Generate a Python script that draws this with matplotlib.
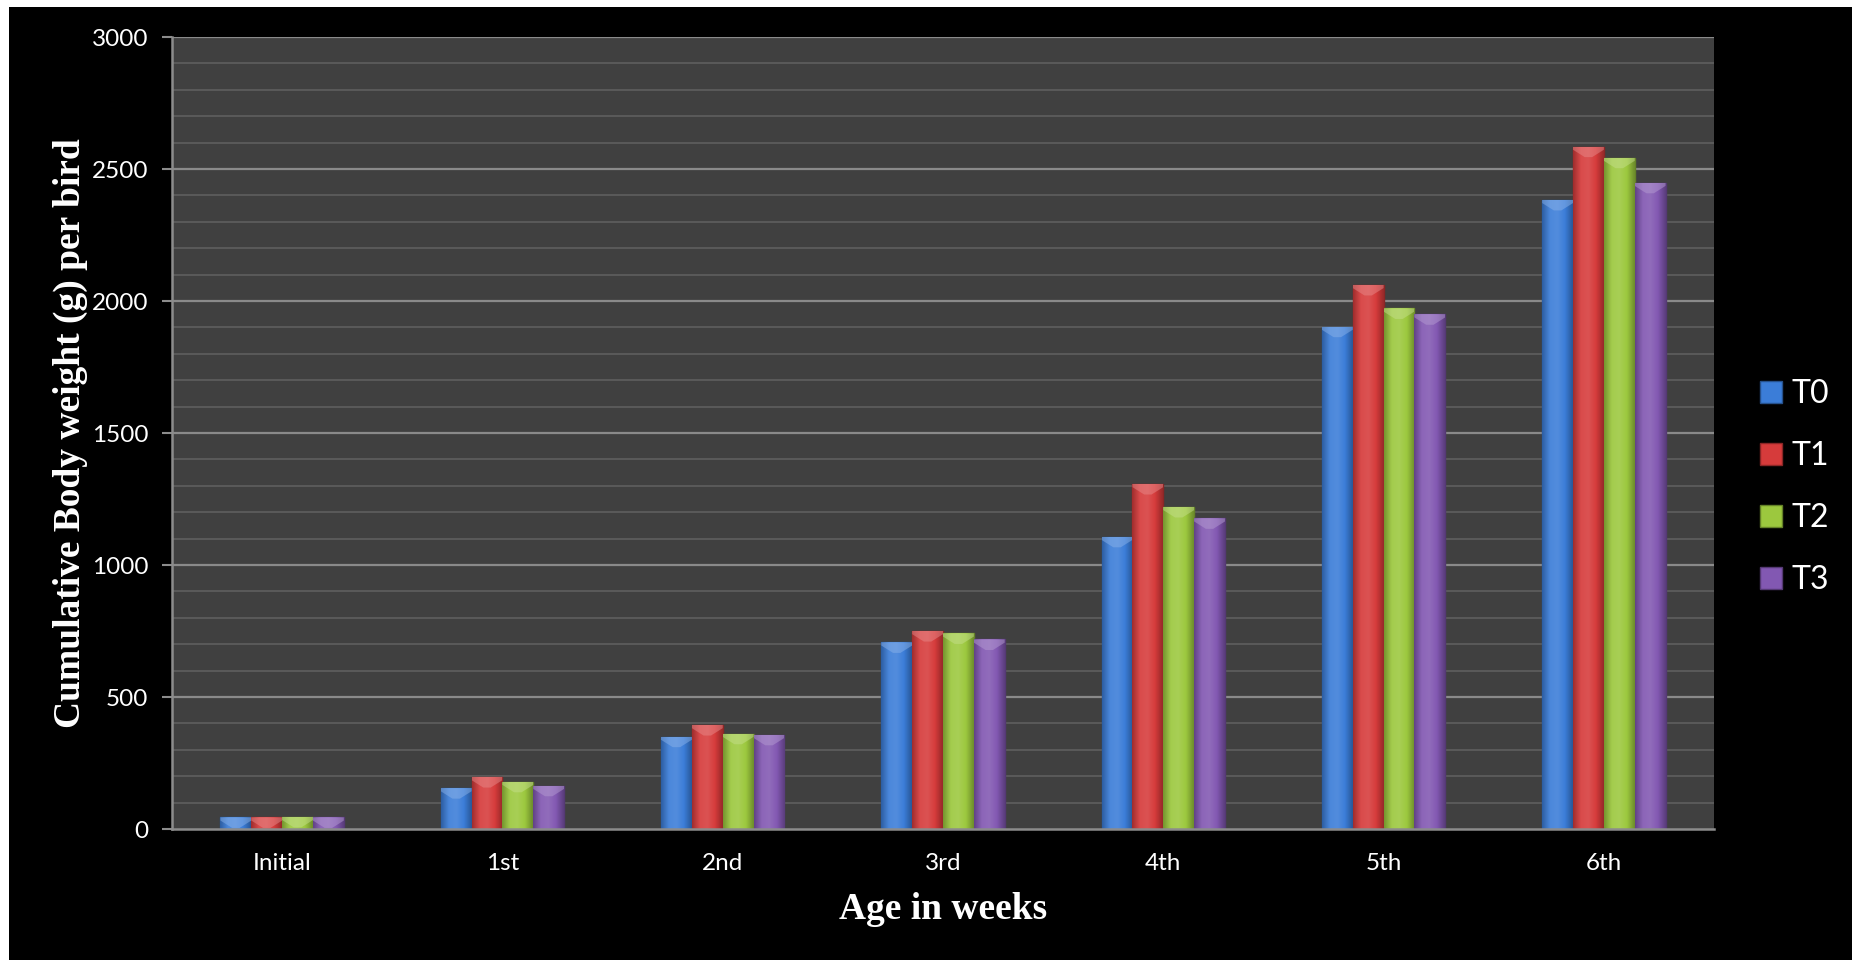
import numpy as np
import matplotlib
matplotlib.use("Agg")
import matplotlib.pyplot as plt
from matplotlib.patches import Rectangle, Polygon
from matplotlib.colors import LinearSegmentedColormap, to_rgb
from matplotlib.font_manager import FontProperties

# Cumulative body weight (g) per bird by week of age
weeks = ["Initial", "1st", "2nd", "3rd", "4th", "5th", "6th"]
t0 = [44, 155, 350, 707, 1107, 1903, 2383]
t1 = [44, 197, 394, 750, 1307, 2061, 2585]
t2 = [46, 179, 361, 741, 1220, 1972, 2543]
t3 = [44, 164, 357, 718, 1177, 1950, 2448]
series_names = ["T0", "T1", "T2", "T3"]
series_values = [t0, t1, t2, t3]
series_colors = ["#3b7dd8", "#d63b3b", "#9cc83e", "#8258b2"]

BODY_FONT = ["Lato", "DejaVu Sans"]
TITLE_FONT = ["Liberation Serif", "DejaVu Serif"]


def shade(color, f):
    r, g, b = to_rgb(color)
    if f >= 0:
        return (r + (1 - r) * f, g + (1 - g) * f, b + (1 - b) * f)
    return (r * (1 + f), g * (1 + f), b * (1 + f))


fig = plt.figure(figsize=(18.52, 9.60), dpi=100, facecolor="black")

# thin white margin along the top and left edges of the canvas
fig.patches.append(Rectangle((0, 0), 9 / 1852, 1, transform=fig.transFigure,
                             facecolor="white", edgecolor="none", zorder=-5))
fig.patches.append(Rectangle((0, 1 - 7 / 960), 1, 7 / 960, transform=fig.transFigure,
                             facecolor="white", edgecolor="none", zorder=-5))

ax = fig.add_axes([172 / 1852, 1 - 829 / 960, 1542 / 1852, 792 / 960])
ax.set_facecolor("#404040")

x = np.arange(len(weeks))
bar_w = 0.14
offsets = (np.arange(len(series_names)) - 1.5) * bar_w

ax.set_xlim(-0.5, len(weeks) - 0.5)
ax.set_ylim(0, 3000)

# gridlines: faint every 100 g, brighter every 500 g
for v in range(100, 3001, 100):
    major = v % 500 == 0
    ax.axhline(v, color="#8a8a8a" if major else "#5c5c5c",
               lw=1.6 if major else 1.3, zorder=0.5)

grad = np.linspace(0, 1, 64).reshape(1, -1)
legend_handles = []
for name, vals, col, off in zip(series_names, series_values, series_colors, offsets):
    bars = ax.bar(x + off, vals, width=bar_w, color=col,
                  edgecolor=shade(col, -0.35), linewidth=1.0, zorder=2, label=name)
    cmap = LinearSegmentedColormap.from_list(
        name + "_grad",
        [shade(col, -0.25), shade(col, 0.08), shade(col, 0.12), col, shade(col, -0.3)])
    for rect in bars:
        x0, w, h = rect.get_x(), rect.get_width(), rect.get_height()
        im = ax.imshow(grad, cmap=cmap, aspect="auto", extent=(x0, x0 + w, 0, h),
                       zorder=2.1, interpolation="bicubic")
        im.set_clip_path(rect)
        # soft bevelled highlight at the top of each column
        d = min(40, h)
        cap = Polygon([(x0, h), (x0 + w, h), (x0 + w, h - d * 0.3),
                       (x0 + w * 0.62, h - d), (x0 + w * 0.38, h - d),
                       (x0, h - d * 0.3)],
                      closed=True, facecolor=shade(col, 0.4), edgecolor="none",
                      alpha=0.5, zorder=2.2)
        ax.add_patch(cap)
        cap.set_clip_path(rect)
    legend_handles.append(bars)

ax.set_xlim(-0.5, len(weeks) - 0.5)
ax.set_ylim(0, 3000)

for s in ["top", "right"]:
    ax.spines[s].set_visible(False)
for s in ["left", "bottom"]:
    ax.spines[s].set_color("#8c8c8c")
    ax.spines[s].set_linewidth(1.8)
    ax.spines[s].set_zorder(3)

ax.set_yticks(range(0, 3001, 500))
ax.set_xticks(x)
ax.set_xticklabels(weeks)
ax.tick_params(axis="y", colors="#8c8c8c", length=7, width=1.5, pad=10,
               labelcolor="white", labelsize=17.5)
ax.tick_params(axis="x", length=0, pad=17, labelcolor="white", labelsize=17.5)
for lbl in ax.get_xticklabels() + ax.get_yticklabels():
    lbl.set_fontfamily(BODY_FONT)

ax.set_xlabel("Age in weeks", color="white", fontsize=27, fontweight="bold",
              family=TITLE_FONT, va="center")
ax.xaxis.set_label_coords(0.5, -0.102)
ax.set_ylabel("Cumulative Body weight (g) per bird", color="white", fontsize=27,
              fontweight="bold", family=TITLE_FONT, va="center")
ax.yaxis.set_label_coords(-0.066, 0.5)

leg = fig.legend(handles=legend_handles, labels=series_names, loc="center left",
                 bbox_to_anchor=(1731 / 1852, 1 - 487 / 960), frameon=False,
                 handlelength=0.7, handleheight=0.7, handletextpad=0.3,
                 labelspacing=1.0, prop=FontProperties(family=BODY_FONT, size=23))
for t in leg.get_texts():
    t.set_color("white")

fig.savefig("out.png", dpi=100, facecolor="black")
